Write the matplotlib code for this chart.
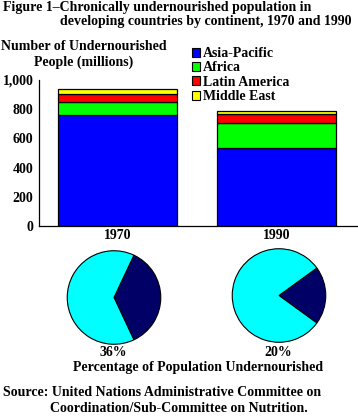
import numpy as np
import matplotlib
matplotlib.use("Agg")
import matplotlib.pyplot as plt
from matplotlib.patches import Patch

# data (millions of people)
years = ["1970", "1990"]
regions = ["Asia-Pacific", "Africa", "Latin America", "Middle East"]
asia_pacific = [757, 537]
africa = [91, 171]
latin_america = [58, 61]
middle_east = [29, 16]
pct_under = [36, 20]
y_ticks = [0, 200, 400, 600, 800, 1000]
y_tick_labels = ["0", "200", "400", "600", "800", "1,000"]

colors = ["#0000FF", "#00FF00", "#FF0000", "#FFFF00"]
W, H = 358, 417
plt.rcParams['font.family'] = ['Liberation Serif', 'DejaVu Serif']
plt.rcParams['font.weight'] = 'bold'
FS = 10

fig = plt.figure(figsize=(W / 100, H / 100), dpi=100)

def px(x, y):  # pixel -> figure fraction
    return x / W, 1 - y / H

def text(x, y, s, **kw):
    fx, fy = px(x, y)
    fig.text(fx, fy, s, fontsize=FS, fontweight='bold', va='center', **kw)

text(3, 8, "Figure 1\u2013Chronically undernourished population in")
text(60, 21, "developing countries by continent, 1970 and 1990")
text(84, 47, "Number of Undernourished", ha='center')
text(84, 62, "People (millions)", ha='center')

# stacked bars
ax = fig.add_axes([39 / W, 1 - 226 / H, (W - 39) / W, (226 - 80) / H])
x = np.arange(len(years))
series = [asia_pacific, africa, latin_america, middle_east]
bottom = np.zeros(len(years))
for vals, c, name in zip(series, colors, regions):
    ax.bar(x, vals, width=0.75, bottom=bottom, color=c, edgecolor='black',
           linewidth=0.9, label=name)
    bottom += np.array(vals)
ax.set_ylim(0, 1000)
ax.set_xlim(-0.494, 1.513)
ax.set_yticks(y_ticks)
ax.set_yticklabels(y_tick_labels)
ax.set_xticks(x)
ax.set_xticklabels(years)
ax.tick_params(length=0, labelsize=FS)
ax.tick_params(axis='y', pad=4)
ax.tick_params(axis='x', pad=2)
for lab in ax.get_xticklabels() + ax.get_yticklabels():
    lab.set_fontweight('bold')
for s in ['top', 'right']:
    ax.spines[s].set_visible(False)
for s in ['left', 'bottom']:
    ax.spines[s].set_linewidth(0.9)

handles = [Patch(facecolor=c, edgecolor='black', linewidth=0.8) for c in colors]
fig.legend(handles, regions, loc='upper left', bbox_to_anchor=px(192, 47),
           frameon=False, prop={'weight': 'bold', 'size': FS},
           handlelength=0.6, handleheight=0.6, handletextpad=0.2,
           labelspacing=0.1, borderpad=0, borderaxespad=0)

# pies
centers = [(114, 297.5), (279, 295.5)]
r = 47.7
for (cx, cy), p in zip(centers, pct_under):
    pa = fig.add_axes([(cx - r) / W, 1 - (cy + r) / H, 2 * r / W, 2 * r / H])
    pa.pie([p, 100 - p], colors=["#000066", "#00FFFF"], startangle=-p * 3.6 / 2,
           counterclock=True, radius=1,
           wedgeprops=dict(edgecolor='black', linewidth=0.8))
    pa.set_xlim(-1.02, 1.02)
    pa.set_ylim(-1.02, 1.02)
    pa.set_aspect('equal')
    pa.axis('off')
    text(cx - 1, 353, f"{p}%", ha='center')

text(198, 368, "Percentage of Population Undernourished", ha='center')
text(3, 393, "Source: United Nations Administrative Committee on")
text(50, 408, "Coordination/Sub-Committee on Nutrition.")

fig.savefig("out.png", dpi=100)
